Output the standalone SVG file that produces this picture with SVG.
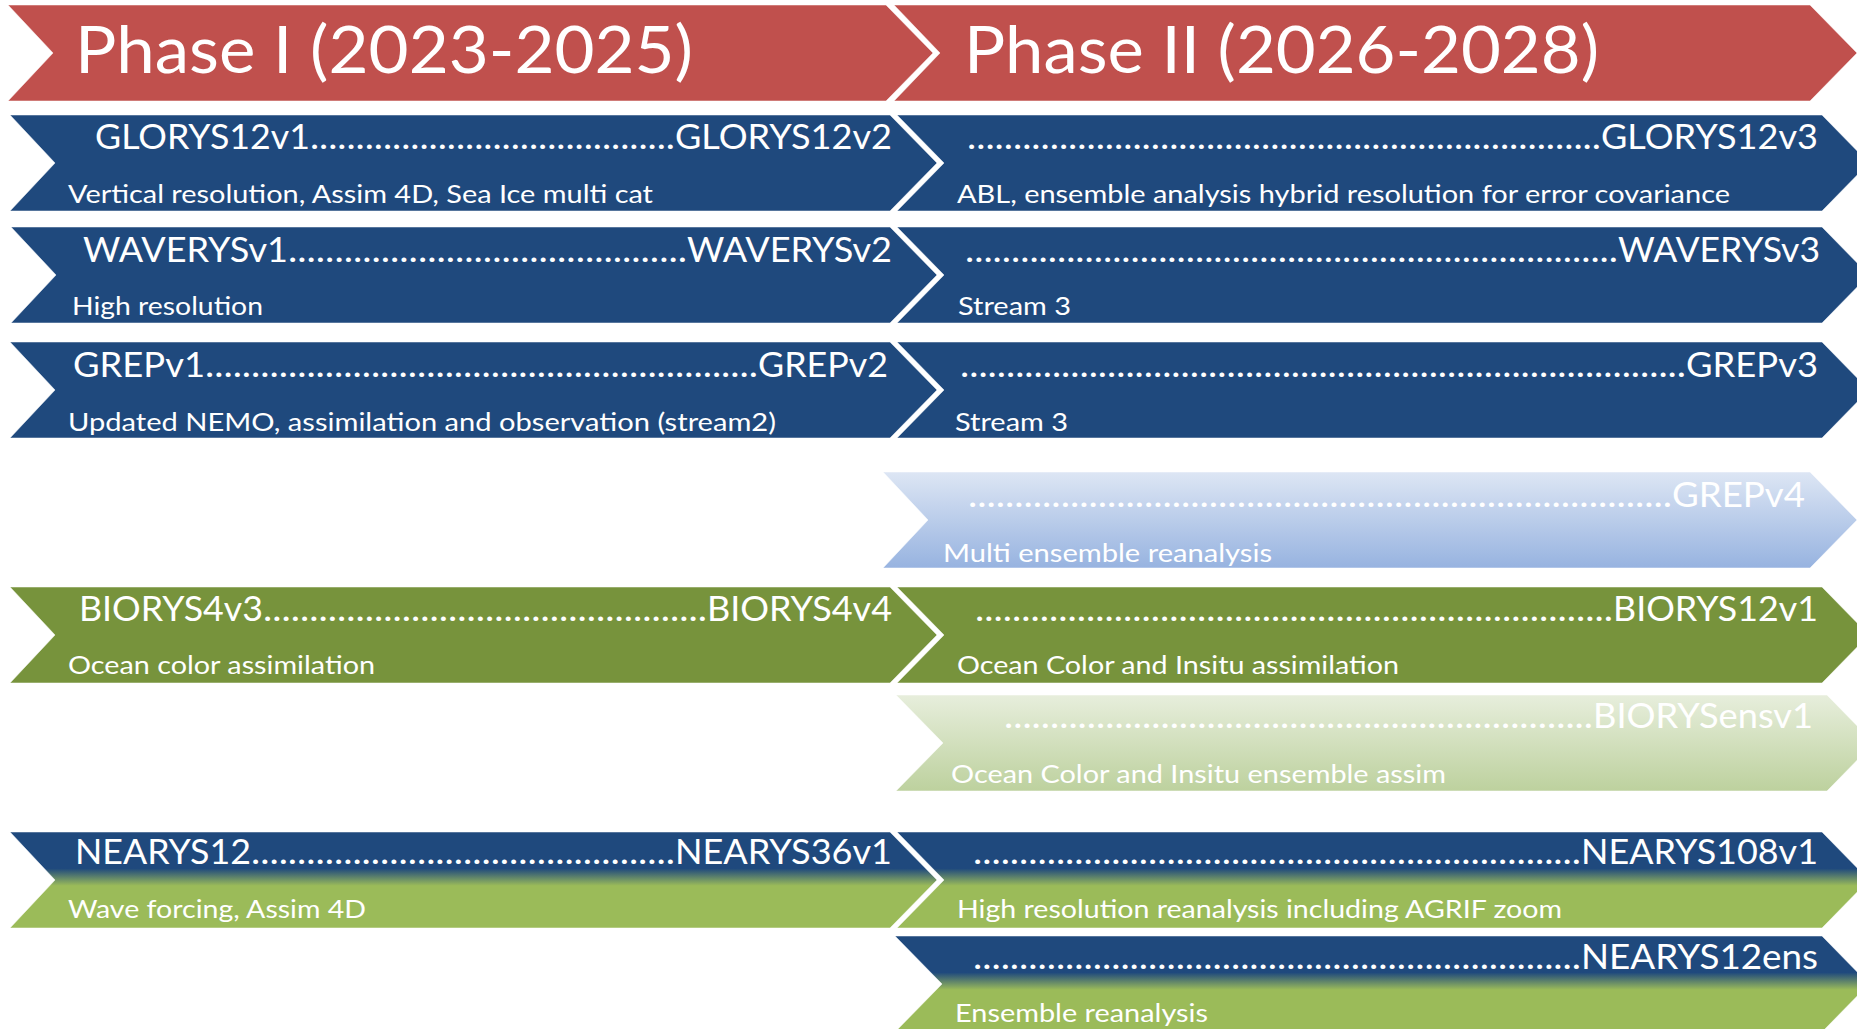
<svg xmlns="http://www.w3.org/2000/svg" width="1857" height="1029" viewBox="0 0 1857 1029">
  <style>
    text { font-family: Lato, "Open Sans", "Liberation Sans", sans-serif; fill: #ffffff; }
    .h { font-size: 66px; }
    .n { font-size: 34px; }
    .s { font-size: 25px; }
    .red { fill: #C0504D; }
    .blue { fill: #1F497D; }
    .olive { fill: #77933C; }
    .lblue { fill: url(#gLBlue); }
    .lgreen { fill: url(#gLGreen); }
    .mix { fill: url(#gMix); }
    polygon { stroke: #ffffff; stroke-opacity: 0.5; stroke-width: 1; }
  </style>
  <defs>
    <linearGradient id="gLBlue" x1="0" y1="0" x2="0" y2="1">
      <stop offset="0" stop-color="#DDE6F4"/>
      <stop offset="1" stop-color="#97B3E0"/>
    </linearGradient>
    <linearGradient id="gLGreen" x1="0" y1="0" x2="0" y2="1">
      <stop offset="0" stop-color="#E7EEDC"/>
      <stop offset="1" stop-color="#BDD19E"/>
    </linearGradient>
    <linearGradient id="gMix" x1="0" y1="0" x2="0" y2="1">
      <stop offset="0" stop-color="#1F497D"/>
      <stop offset="0.38" stop-color="#1F497D"/>
      <stop offset="0.56" stop-color="#9BBB59"/>
      <stop offset="1" stop-color="#9BBB59"/>
    </linearGradient>
  </defs>
  <rect width="1857" height="1029" fill="#ffffff"/>

  <g id="connectors"/>

  <!-- Header -->
  <g id="phase1">
    <polygon class="red" points="8,5 886,5 933,53 886,101 8,101 53,53"/>
    <text class="h" x="75" y="73" textLength="618" lengthAdjust="spacingAndGlyphs">Phase I (2023-2025)</text>
  </g>
  <g id="phase2">
    <polygon class="red" points="894,5 1810,5 1857,53 1810,101 894,101 940,53"/>
    <text class="h" x="964" y="73" textLength="635" lengthAdjust="spacingAndGlyphs">Phase II (2026-2028)</text>
  </g>

  <!-- GLORYS -->
  <g id="glorys-p1">
    <polygon class="blue" points="10,115 890,115 937,163 890,211 10,211 55,163"/>
    <text class="n" y="149"><tspan x="95" textLength="215" lengthAdjust="spacingAndGlyphs">GLORYS12v1</tspan><tspan x="310" textLength="365" lengthAdjust="spacingAndGlyphs">........................................</tspan><tspan x="675" textLength="217" lengthAdjust="spacingAndGlyphs">GLORYS12v2</tspan></text>
    <text class="s" x="68" y="203" textLength="585" lengthAdjust="spacingAndGlyphs">Vertical resolution, Assim 4D, Sea Ice multi cat</text>
  </g>
  <g id="glorys-p2">
    <polygon class="blue" points="897,115 1822,115 1869,163 1822,211 897,211 944,163"/>
    <text class="n" y="149"><tspan x="967" textLength="634" lengthAdjust="spacingAndGlyphs">.....................................................................</tspan><tspan x="1601" textLength="217" lengthAdjust="spacingAndGlyphs">GLORYS12v3</tspan></text>
    <text class="s" x="957" y="203" textLength="773" lengthAdjust="spacingAndGlyphs">ABL, ensemble analysis hybrid resolution for error covariance</text>
  </g>

  <!-- WAVERYS -->
  <g id="waverys-p1">
    <polygon class="blue" points="11,227 890,227 937,275 890,323 11,323 56,275"/>
    <text class="n" y="262"><tspan x="83" textLength="205" lengthAdjust="spacingAndGlyphs">WAVERYSv1</tspan><tspan x="288" textLength="399" lengthAdjust="spacingAndGlyphs">...........................................</tspan><tspan x="687" textLength="205" lengthAdjust="spacingAndGlyphs">WAVERYSv2</tspan></text>
    <text class="s" x="72" y="315" textLength="191" lengthAdjust="spacingAndGlyphs">High resolution</text>
  </g>
  <g id="waverys-p2">
    <polygon class="blue" points="897,227 1822,227 1869,275 1822,323 897,323 944,275"/>
    <text class="n" y="262"><tspan x="965" textLength="653" lengthAdjust="spacingAndGlyphs">.......................................................................</tspan><tspan x="1618" textLength="202" lengthAdjust="spacingAndGlyphs">WAVERYSv3</tspan></text>
    <text class="s" x="958" y="315" textLength="113" lengthAdjust="spacingAndGlyphs">Stream 3</text>
  </g>

  <!-- GREP -->
  <g id="grep-p1">
    <polygon class="blue" points="10,342 890,342 937,390 890,438 10,438 55,390"/>
    <text class="n" y="377"><tspan x="73" textLength="132" lengthAdjust="spacingAndGlyphs">GREPv1</tspan><tspan x="205" textLength="553" lengthAdjust="spacingAndGlyphs">............................................................</tspan><tspan x="758" textLength="130" lengthAdjust="spacingAndGlyphs">GREPv2</tspan></text>
    <text class="s" x="68" y="431" textLength="708" lengthAdjust="spacingAndGlyphs">Updated NEMO, assimilation and observation (stream2)</text>
  </g>
  <g id="grep-p2">
    <polygon class="blue" points="897,342 1822,342 1869,390 1822,438 897,438 944,390"/>
    <text class="n" y="377"><tspan x="960" textLength="726" lengthAdjust="spacingAndGlyphs">...............................................................................</tspan><tspan x="1686" textLength="132" lengthAdjust="spacingAndGlyphs">GREPv3</tspan></text>
    <text class="s" x="955" y="431" textLength="113" lengthAdjust="spacingAndGlyphs">Stream 3</text>
  </g>

  <!-- GREPv4 -->
  <g id="grepv4">
    <polygon class="lblue" points="883,472 1810,472 1857,520 1810,568 883,568 928,520"/>
    <text class="n" y="507"><tspan x="968" textLength="704" lengthAdjust="spacingAndGlyphs">............................................................................</tspan><tspan x="1672" textLength="133" lengthAdjust="spacingAndGlyphs">GREPv4</tspan></text>
    <text class="s" x="943" y="562" textLength="329" lengthAdjust="spacingAndGlyphs">Multi ensemble reanalysis</text>
  </g>

  <!-- BIORYS -->
  <g id="biorys-p1">
    <polygon class="olive" points="10,587 890,587 937,635 890,683 10,683 55,635"/>
    <text class="n" y="621"><tspan x="79" textLength="184" lengthAdjust="spacingAndGlyphs">BIORYS4v3</tspan><tspan x="263" textLength="444" lengthAdjust="spacingAndGlyphs">................................................</tspan><tspan x="707" textLength="185" lengthAdjust="spacingAndGlyphs">BIORYS4v4</tspan></text>
    <text class="s" x="68" y="674" textLength="307" lengthAdjust="spacingAndGlyphs">Ocean color assimilation</text>
  </g>
  <g id="biorys-p2">
    <polygon class="olive" points="897,587 1822,587 1869,635 1822,683 897,683 944,635"/>
    <text class="n" y="621"><tspan x="975" textLength="638" lengthAdjust="spacingAndGlyphs">.....................................................................</tspan><tspan x="1613" textLength="205" lengthAdjust="spacingAndGlyphs">BIORYS12v1</tspan></text>
    <text class="s" x="957" y="674" textLength="442" lengthAdjust="spacingAndGlyphs">Ocean Color and Insitu assimilation</text>
  </g>

  <!-- BIORYSens -->
  <g id="biorysens">
    <polygon class="lgreen" points="896,695 1827,695 1874,743 1827,791 896,791 943,743"/>
    <text class="n" y="728"><tspan x="1004" textLength="589" lengthAdjust="spacingAndGlyphs">................................................................</tspan><tspan x="1593" textLength="220" lengthAdjust="spacingAndGlyphs">BIORYSensv1</tspan></text>
    <text class="s" x="951" y="783" textLength="495" lengthAdjust="spacingAndGlyphs">Ocean Color and Insitu ensemble assim</text>
  </g>

  <!-- NEARYS -->
  <g id="nearys-p1">
    <polygon class="mix" points="10,832 890,832 937,880 890,928 10,928 55,880"/>
    <text class="n" y="864"><tspan x="75" textLength="176" lengthAdjust="spacingAndGlyphs">NEARYS12</tspan><tspan x="251" textLength="424" lengthAdjust="spacingAndGlyphs">..............................................</tspan><tspan x="675" textLength="217" lengthAdjust="spacingAndGlyphs">NEARYS36v1</tspan></text>
    <text class="s" x="68" y="918" textLength="298" lengthAdjust="spacingAndGlyphs">Wave forcing, Assim 4D</text>
  </g>
  <g id="nearys-p2">
    <polygon class="mix" points="897,832 1822,832 1869,880 1822,928 897,928 944,880"/>
    <text class="n" y="864"><tspan x="973" textLength="608" lengthAdjust="spacingAndGlyphs">..................................................................</tspan><tspan x="1581" textLength="237" lengthAdjust="spacingAndGlyphs">NEARYS108v1</tspan></text>
    <text class="s" x="957" y="918" textLength="605" lengthAdjust="spacingAndGlyphs">High resolution reanalysis including AGRIF zoom</text>
  </g>

  <!-- NEARYS12ens -->
  <g id="nearys12ens">
    <polygon class="mix" points="895,936 1822,936 1869,984 1822,1032 895,1032 942,984"/>
    <text class="n" y="969"><tspan x="973" textLength="608" lengthAdjust="spacingAndGlyphs">..................................................................</tspan><tspan x="1581" textLength="237" lengthAdjust="spacingAndGlyphs">NEARYS12ens</tspan></text>
    <text class="s" x="955" y="1022" textLength="253" lengthAdjust="spacingAndGlyphs">Ensemble reanalysis</text>
  </g>
</svg>
